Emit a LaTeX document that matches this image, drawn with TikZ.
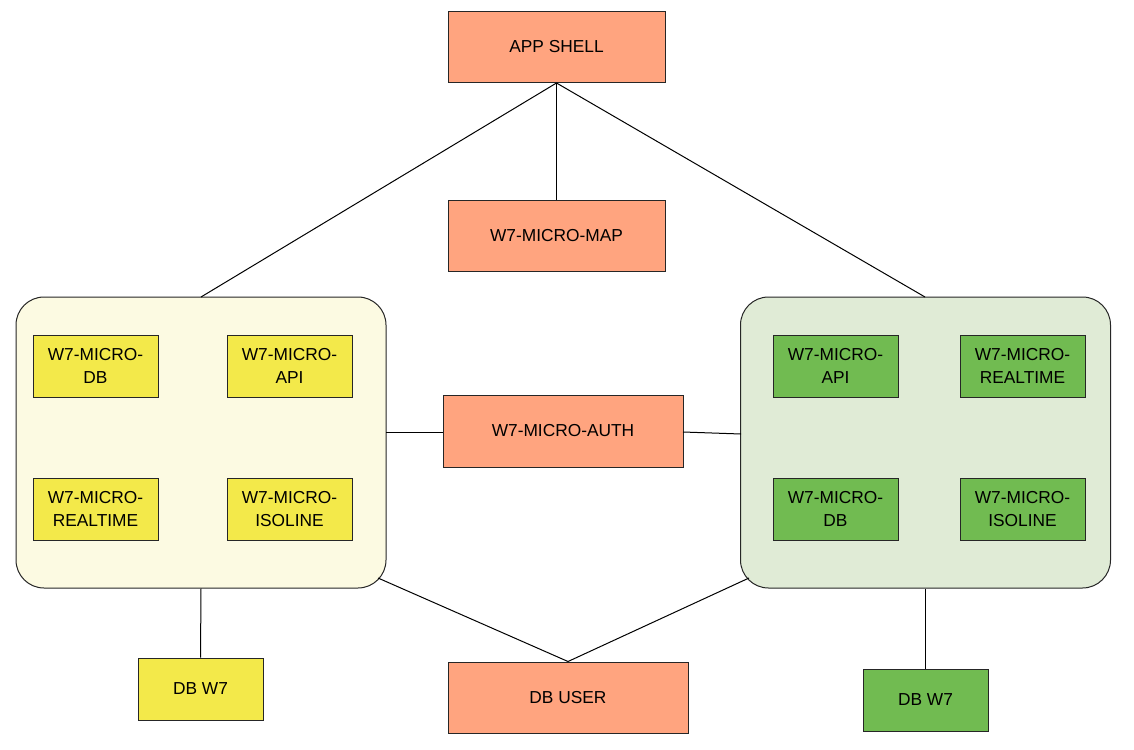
\documentclass[tikz,border=0pt]{standalone}
\usepackage{fontspec}
\setmainfont{Liberation Sans}
\definecolor{salmon}{HTML}{FFA47F}
\definecolor{ylw}{HTML}{F3E94A}
\definecolor{grn}{HTML}{71BB51}
\definecolor{lylw}{HTML}{FCFAE2}
\definecolor{lgrn}{HTML}{E0EBD6}
\begin{document}
\begin{tikzpicture}[x=0.75pt,y=-0.75pt,
  every node/.style={font=\fontsize{13}{16.7}\selectfont, align=center, inner sep=0pt},
  box/.style={draw=black!85, line width=0.75pt, minimum width=#1*0.75pt},
  pbox/.style={box=217, fill=salmon, minimum height=71*0.75pt},
  sbox/.style={box=125, minimum height=62*0.75pt},
  ybox/.style={sbox, fill=ylw},
  gbox/.style={sbox, fill=grn},
  group/.style={draw=black!85, line width=0.75pt, rounded corners=21pt, minimum width=370*0.75pt, minimum height=291*0.75pt},
  conn/.style={line width=0.75pt, black}]
\useasboundingbox (0,0) rectangle (1134,749);
% groups
\node[group, fill=lylw] (lg) at (201,442.5) {};
\node[group, fill=lgrn] (rg) at (925.5,442.5) {};
% top
\node[pbox] (shell) at (556.5,47) {APP SHELL};
\node[pbox] (map) at (556.5,235.5) {W7-MICRO-MAP};
\node[pbox, minimum width=240*0.75pt, minimum height=72*0.75pt] (auth) at (563,431) {W7-MICRO-AUTH};
\node[pbox, minimum width=240*0.75pt, minimum height=71*0.75pt] (dbuser) at (568,697.5) {DB USER};
% left inner
\node[ybox] (ldb) at (95.5,366) {W7-MICRO-\\DB};
\node[ybox] (lapi) at (289.5,366) {W7-MICRO-\\API};
\node[ybox] (lrt) at (95.5,509) {W7-MICRO-\\REALTIME};
\node[ybox] (liso) at (289.5,509) {W7-MICRO-\\ISOLINE};
% right inner
\node[gbox] (rapi) at (835.5,366) {W7-MICRO-\\API};
\node[gbox] (rrt) at (1022.5,366) {W7-MICRO-\\REALTIME};
\node[gbox] (rdb) at (835.5,509) {W7-MICRO-\\DB};
\node[gbox] (riso) at (1022.5,509) {W7-MICRO-\\ISOLINE};
% bottom
\node[ybox] (ldbw) at (200.5,689) {DB W7};
\node[gbox] (rdbw) at (925.5,700) {DB W7};
% connector points
\coordinate (lgtop) at (201,297);
\coordinate (rgtop) at (925,297);
\coordinate (lgbr) at (378,578);
\coordinate (rgbl) at (749,578);
\coordinate (lgright) at (386,432);
\coordinate (authl) at (443,432);
\coordinate (authr) at (683,432);
\coordinate (rgleft) at (741,434);
% connectors
\draw[conn] (shell.south) -- (lgtop);
\draw[conn] (shell.south) -- (map.north);
\draw[conn] (shell.south) -- (rgtop);
\draw[conn] (lgright) -- (authl);
\draw[conn] (authr) -- (rgleft);
\draw[conn] (lg.south) -- (ldbw.north);
\draw[conn] (rg.south) -- (rdbw.north);
\draw[conn] (lgbr) -- (dbuser.north);
\draw[conn] (rgbl) -- (dbuser.north);
\end{tikzpicture}
\end{document}
